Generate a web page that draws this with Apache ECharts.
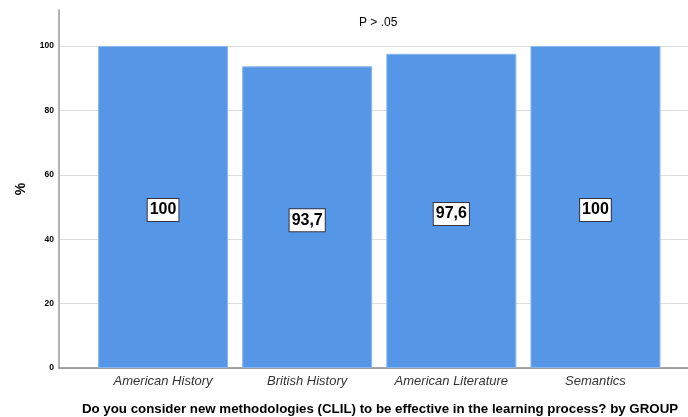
<!DOCTYPE html>
<html>
<head>
<meta charset="utf-8">
<script src="https://cdn.jsdelivr.net/npm/echarts@6/dist/echarts.min.js"></script>
<style>html,body{margin:0;padding:0;background:#fff}#c{width:688px;height:417px}</style>
</head>
<body>
<div id="c"></div>
<script>
const categories = ['American History', 'British History', 'American Literature', 'Semantics'];
const values = [100, 93.7, 97.6, 100];
const valueLabels = ['100', '93,7', '97,6', '100'];
const yTicks = [0, 20, 40, 60, 80, 100];
const chartTitle = 'P > .05';
const xTitle = 'Do you consider new methodologies (CLIL) to be effective in the learning process? by GROUP';
const yTitle = '%';

const chart = echarts.init(document.getElementById('c'));
const font = '"Liberation Sans", Arial, sans-serif';
chart.setOption({
  animation: false,
  title: {
    text: chartTitle, left: 354, top: 12,
    textStyle: { fontFamily: font, fontSize: 12, fontWeight: 'normal', color: '#000' }
  },
  grid: { left: 59, right: 0, top: 10, bottom: 49, outerBoundsMode: 'none', containLabel: false },
  xAxis: {
    type: 'value', min: -0.722, max: 3.642,
    axisLine: { show: true, onZero: false, lineStyle: { color: '#888', width: 1.5 } },
    axisTick: { show: false },
    splitLine: { show: false },
    axisLabel: {
      customValues: categories.map((c, i) => i),
      formatter: v => categories[Math.round(v)],
      fontFamily: font, fontSize: 13, fontStyle: 'italic', color: '#333', margin: 7
    },
    name: xTitle, nameLocation: 'middle', nameGap: 35,
    nameTextStyle: { fontFamily: font, fontSize: 13.3, fontWeight: 'bold', color: '#000', padding: [0, 0, 0, 13] }
  },
  yAxis: {
    type: 'value', min: 0, max: 111.2,
    axisLine: { show: true, onZero: false, lineStyle: { color: '#999', width: 1.5 } },
    axisTick: { show: false, customValues: yTicks },
    splitLine: { show: true, lineStyle: { color: '#dcdcdc', width: 1 } },
    axisLabel: {
      customValues: yTicks,
      fontFamily: font, fontSize: 8.5, fontWeight: 'bold', color: '#000', margin: 5
    },
    name: yTitle, nameLocation: 'middle', nameGap: 31, nameRotate: 90,
    nameTextStyle: { fontFamily: font, fontSize: 14, fontWeight: 'bold', color: '#000' }
  },
  series: [{
    type: 'bar',
    barWidth: 130,
    data: values.map((v, i) => [i, v]),
    itemStyle: { color: '#5596e6', borderColor: '#8ab5ee', borderWidth: 1 },
    label: {
      show: true, position: 'inside', offset: [0, 3],
      formatter: p => valueLabels[p.dataIndex],
      fontFamily: font, fontSize: 16, fontWeight: 'bold', color: '#000',
      backgroundColor: '#fff', borderColor: '#334', borderWidth: 1,
      padding: [4, 2, 2, 2]
    }
  }]
});
</script>
</body>
</html>
